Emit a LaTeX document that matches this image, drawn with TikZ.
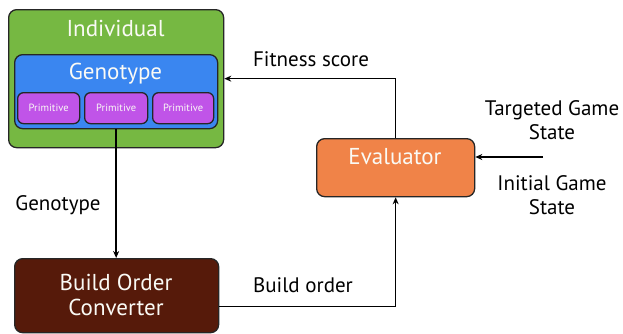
\documentclass[tikz,border=0pt]{standalone}
\usepackage{fontspec}
\setmainfont{PT Sans}
\usetikzlibrary{arrows.meta}
\definecolor{cgreen}{RGB}{118,184,66}
\definecolor{cblue}{RGB}{58,134,240}
\definecolor{cpurple}{RGB}{192,84,232}
\definecolor{corange}{RGB}{240,131,72}
\definecolor{cbrown}{RGB}{86,26,10}
\definecolor{ctext}{RGB}{250,250,245}
\tikzset{
  box/.style={draw=black!85, line width=1.3pt, rounded corners=8pt, anchor=north west, inner sep=0pt},
  boxtext/.style={text=ctext, font=\fontsize{23}{25}\selectfont, inner sep=0pt},
  lbl/.style={text=black, font=\fontsize{21}{24}\selectfont, inner sep=0pt, align=center},
  conn/.style={line width=1.4pt, -{Stealth[length=7pt,width=6pt]}},
}
\begin{document}
\begin{tikzpicture}[x=1pt,y=-1pt]
\useasboundingbox (0,0) rectangle (623,333);
% boxes
\node[box, fill=cgreen, minimum width=215pt, minimum height=138pt] (indiv) at (8,9) {};
\node[boxtext] (indivt) at (115.5,28) {Individual};
\node[box, fill=cblue, minimum width=203pt, minimum height=74pt] (geno) at (14,54) {};
\node[boxtext] (genot) at (115.5,74) {Genotype};
\node[box, fill=cpurple, rounded corners=6pt, minimum width=62pt, minimum height=31pt] (p1) at (17,92) {};
\node[box, fill=cpurple, rounded corners=6pt, minimum width=63pt, minimum height=31pt] (p2) at (84,92) {};
\node[box, fill=cpurple, rounded corners=6pt, minimum width=61pt, minimum height=31pt] (p3) at (152,92) {};
\node[text=ctext, font=\fontsize{10.5}{12}\selectfont] (p1t) at (p1.center) {Primitive};
\node[text=ctext, font=\fontsize{10.5}{12}\selectfont] (p2t) at (p2.center) {Primitive};
\node[text=ctext, font=\fontsize{10.5}{12}\selectfont] (p3t) at (p3.center) {Primitive};
\node[box, fill=corange, minimum width=158pt, minimum height=58pt] (eval) at (316,138) {};
\node[boxtext] (evalt) at (395,157) {Evaluator};
\node[box, fill=cbrown, minimum width=204pt, minimum height=74pt] (boc) at (14,258) {};
\node[boxtext, align=center] (boct) at (116,295) {Build Order\\[-0pt]Converter};
% labels
\node[lbl] (lfit) at (311,59) {Fitness score};
\node[lbl] (lgen) at (58,205) {Genotype};
\node[lbl] (lbuild) at (303,285) {Build order};
\node[lbl] (ltgs) at (552,120) {Targeted Game\\State};
\node[lbl] (ligs) at (552,195) {Initial Game\\State};
% connectors
\draw[conn] (geno.south) -- (geno.south |- boc.north);
\coordinate (bocout) at ([yshift=-11pt]boc.east);
\draw[conn] (bocout) -| (eval.south);
\draw[conn] (eval.north) |- (indiv.east);
\coordinate (gsin) at (543,157);
\draw[conn] (gsin) -- (gsin -| eval.east);
\end{tikzpicture}
\end{document}
